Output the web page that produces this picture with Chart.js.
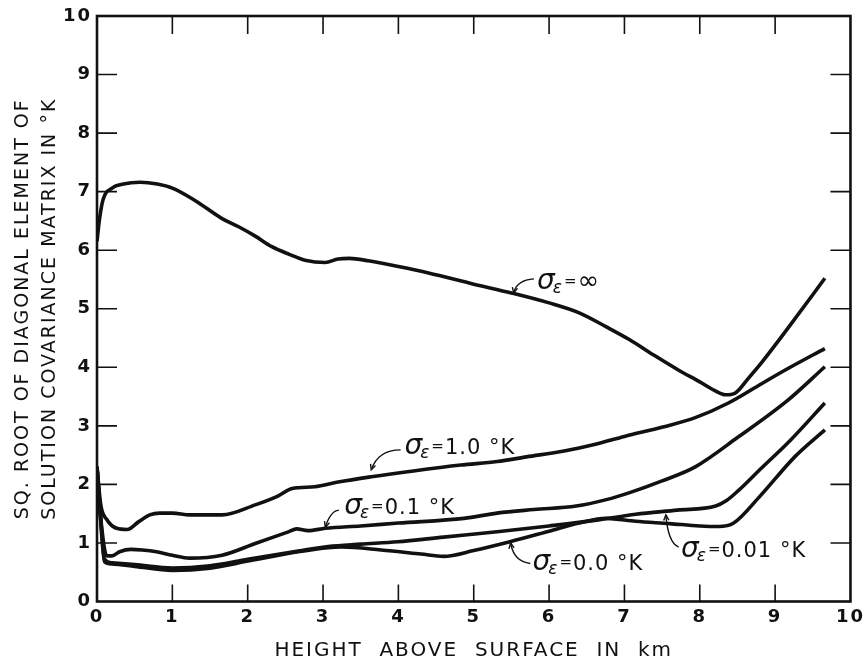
<!DOCTYPE html>
<html>
<head>
<meta charset="utf-8">
<script src="https://cdn.jsdelivr.net/npm/chart.js@4"></script>
<style>
html, body { margin: 0; padding: 0; background: #fff; }
#wrap { width: 868px; height: 663px; position: relative; }
</style>
</head>
<body>
<div id="wrap"><canvas id="chart"></canvas></div>
<script>
// heights in km / values in °K
const infH = [0, 0.03, 0.08, 0.2, 0.35, 0.57, 0.8, 1.0, 1.3, 1.66, 1.88, 2.1, 2.32, 2.55, 2.76, 3.03, 3.2, 3.35, 3.6, 4.0, 4.4, 5.0, 5.5, 6.0, 6.4, 6.76, 7.07, 7.4, 7.72, 8.0, 8.2, 8.34, 8.47, 8.65, 8.82, 9.2, 9.66];
const infV = [6.15, 6.5, 6.86, 7.06, 7.13, 7.16, 7.13, 7.06, 6.85, 6.54, 6.40, 6.24, 6.06, 5.93, 5.83, 5.79, 5.85, 5.86, 5.82, 5.72, 5.61, 5.42, 5.27, 5.10, 4.93, 4.69, 4.47, 4.20, 3.95, 3.75, 3.60, 3.53, 3.56, 3.82, 4.08, 4.72, 5.52];

const s10H = [0, 0.05, 0.13, 0.26, 0.4, 0.55, 0.7, 0.83, 1.0, 1.23, 1.66, 2.1, 2.4, 2.59, 2.89, 3.2, 3.64, 4.2, 4.83, 5.31, 5.7, 6.2, 6.63, 7.0, 7.51, 7.94, 8.38, 8.82, 9.2, 9.66];
const s10V = [2.3, 1.65, 1.40, 1.25, 1.23, 1.36, 1.48, 1.51, 1.51, 1.48, 1.48, 1.65, 1.80, 1.93, 1.96, 2.04, 2.13, 2.23, 2.33, 2.39, 2.47, 2.57, 2.69, 2.82, 2.98, 3.14, 3.39, 3.72, 4.00, 4.32];

const s01H = [0, 0.06, 0.13, 0.2, 0.3, 0.45, 0.6, 0.79, 1.0, 1.23, 1.66, 2.1, 2.54, 2.65, 2.8, 3.03, 3.5, 4.0, 4.87, 5.31, 5.8, 6.36, 6.76, 7.07, 7.5, 7.94, 8.5, 9.17, 9.66];
const s01V = [2.3, 1.3, 0.78, 0.78, 0.85, 0.89, 0.88, 0.85, 0.79, 0.74, 0.79, 0.99, 1.19, 1.24, 1.21, 1.25, 1.29, 1.34, 1.42, 1.51, 1.57, 1.63, 1.74, 1.86, 2.06, 2.30, 2.80, 3.44, 4.01];

const s001H = [0, 0.05, 0.1, 0.2, 0.5, 1.0, 1.5, 2.0, 2.67, 3.07, 3.5, 3.99, 4.6, 5.31, 6.0, 6.63, 7.15, 7.7, 8.21, 8.35, 8.5, 8.82, 9.2, 9.66];
const s001V = [2.3, 1.4, 0.72, 0.66, 0.63, 0.57, 0.61, 0.72, 0.86, 0.94, 0.98, 1.02, 1.10, 1.19, 1.29, 1.39, 1.49, 1.56, 1.63, 1.72, 1.88, 2.28, 2.75, 3.39];

const s00H = [0, 0.05, 0.1, 0.2, 0.5, 1.0, 1.5, 2.0, 2.67, 3.07, 3.25, 3.77, 4.3, 4.6, 5.0, 5.48, 6.0, 6.4, 6.76, 7.15, 7.6, 8.0, 8.25, 8.45, 8.8, 9.26, 9.66];
const s00V = [2.3, 1.35, 0.68, 0.64, 0.60, 0.53, 0.57, 0.69, 0.85, 0.92, 0.93, 0.88, 0.81, 0.77, 0.87, 1.02, 1.20, 1.34, 1.42, 1.37, 1.33, 1.29, 1.28, 1.34, 1.80, 2.47, 2.93];

const tickVals = [1, 2, 3, 4, 5, 6, 7, 8, 9];

// curve labels: text after "σε=", anchor (km, °K), pointer start / bend / end (km, °K)
const labelText = ['∞', '1.0 °K', '0.1 °K', '0.0 °K', '0.01 °K'];
const labelAt = [[5.84, 5.47], [4.08, 2.64], [3.28, 1.63], [5.78, 0.67], [7.75, 0.88]];
const pointerPath = [
    [[5.80, 5.51], [5.57, 5.49], [5.53, 5.27]],
    [[4.03, 2.59], [3.73, 2.59], [3.64, 2.25]],
    [[3.21, 1.56], [3.10, 1.55], [3.03, 1.27]],
    [[5.75, 0.65], [5.53, 0.68], [5.49, 1.00]],
    [[7.72, 0.93], [7.58, 1.00], [7.55, 1.48]]
];

function pts(h, v){
    return h.map((x, i) => ({x: x, y: v[i]}));
}

const INK = '#111';

function curve(label, h, v){
    return {
        label: label,
        data: pts(h, v),
        borderColor: INK,
        borderWidth: 3.6,
        pointRadius: 0,
        fill: false,
        showLine: true,
        cubicInterpolationMode: 'monotone'
    };
}

function drawSigma(ctx, px, py, rest){
    ctx.save();
    ctx.fillStyle = INK;
    ctx.textBaseline = 'alphabetic';
    ctx.textAlign = 'left';
    const base = py + 7.5;
    ctx.font = 'italic 28px "DejaVu Sans"';
    ctx.fillText('σ', px, base);
    let cx = px + ctx.measureText('σ').width - 2;
    ctx.font = 'italic 17px "DejaVu Sans"';
    ctx.fillText('ε', cx, base + 4);
    cx += ctx.measureText('ε').width + 2;
    ctx.font = '15px "DejaVu Sans"';
    ctx.fillText('=', cx, base - 3);
    cx += ctx.measureText('=').width + 1;
    if (rest === '∞') {
        ctx.font = '26px "DejaVu Sans"';
    } else {
        ctx.font = '21px "DejaVu Sans"';
        ctx.letterSpacing = '1px';
    }
    ctx.fillText(rest, cx, base);
    ctx.restore();
}

function drawPointer(ctx, p0, c, p1){
    ctx.save();
    ctx.strokeStyle = INK;
    ctx.lineWidth = 1.4;
    ctx.beginPath();
    ctx.moveTo(p0.x, p0.y);
    ctx.quadraticCurveTo(c.x, c.y, p1.x, p1.y);
    ctx.stroke();
    const ang = Math.atan2(p1.y - c.y, p1.x - c.x);
    const L = 6;
    ctx.beginPath();
    ctx.moveTo(p1.x - L * Math.cos(ang - 0.45), p1.y - L * Math.sin(ang - 0.45));
    ctx.lineTo(p1.x, p1.y);
    ctx.lineTo(p1.x - L * Math.cos(ang + 0.45), p1.y - L * Math.sin(ang + 0.45));
    ctx.stroke();
    ctx.restore();
}

const framePlugin = {
    id: 'frame',
    beforeDraw(chart){
        chart.ctx.letterSpacing = '2px';
    },
    beforeDatasetsDraw(chart){
        const ctx = chart.ctx;
        const a = chart.chartArea;
        const x = chart.scales.x, y = chart.scales.y;
        ctx.letterSpacing = '0px';
        ctx.save();
        ctx.strokeStyle = INK;
        ctx.lineWidth = 1.6;
        ctx.beginPath();
        tickVals.forEach(v => {
            const px = x.getPixelForValue(v);
            const py = y.getPixelForValue(v);
            ctx.moveTo(px, a.bottom); ctx.lineTo(px, a.bottom - 17);
            ctx.moveTo(px, a.top); ctx.lineTo(px, a.top + 18);
            ctx.moveTo(a.left, py); ctx.lineTo(a.left + 20, py);
            ctx.moveTo(a.right, py); ctx.lineTo(a.right - 20, py);
        });
        ctx.stroke();
        ctx.lineWidth = 2.6;
        ctx.strokeRect(a.left, a.top, a.right - a.left, a.bottom - a.top);
        ctx.restore();
    },
    afterDatasetsDraw(chart){
        const ctx = chart.ctx;
        const x = chart.scales.x, y = chart.scales.y;
        const toPx = p => ({x: x.getPixelForValue(p[0]), y: y.getPixelForValue(p[1])});
        for (let i = 0; i < labelText.length; i++) {
            const pp = pointerPath[i];
            drawPointer(ctx, toPx(pp[0]), toPx(pp[1]), toPx(pp[2]));
            const at = toPx(labelAt[i]);
            drawSigma(ctx, at.x, at.y, labelText[i]);
        }
    }
};

const tickFont = {family: "'Liberation Sans Narrow', 'DejaVu Sans', sans-serif", size: 18, weight: 'bold'};
const titleFamily = "'DejaVu Sans', sans-serif";

new Chart(document.getElementById('chart'), {
    type: 'scatter',
    data: {
        datasets: [
            curve('σε=∞', infH, infV),
            curve('σε=1.0 °K', s10H, s10V),
            curve('σε=0.1 °K', s01H, s01V),
            curve('σε=0.01 °K', s001H, s001V),
            curve('σε=0.0 °K', s00H, s00V)
        ]
    },
    options: {
        responsive: true,
        maintainAspectRatio: false,
        animation: false,
        layout: { padding: {left: 0, top: 16, right: 12, bottom: 0} },
        plugins: {
            legend: { display: false },
            tooltip: { enabled: false }
        },
        scales: {
            x: {
                type: 'linear',
                min: 0,
                max: 10,
                grid: { display: false, drawTicks: false },
                border: { display: false },
                ticks: { stepSize: 1, padding: 5, color: INK, font: tickFont },
                title: {
                    display: true,
                    text: 'HEIGHT  ABOVE  SURFACE  IN  km',
                    color: INK,
                    font: {family: titleFamily, size: 20, lineHeight: 1.2},
                    padding: {top: 0, bottom: 0}
                },
                afterFit(scale){ scale.height = 61.5; }
            },
            y: {
                type: 'linear',
                min: 0,
                max: 10,
                grid: { display: false, drawTicks: false },
                border: { display: false },
                ticks: { stepSize: 1, padding: 5, color: INK, font: tickFont },
                title: {
                    display: true,
                    text: ['SQ. ROOT OF DIAGONAL ELEMENT OF', 'SOLUTION COVARIANCE MATRIX IN °K'],
                    color: INK,
                    font: {family: titleFamily, size: 19, lineHeight: 1.45},
                    padding: {top: 9, bottom: 0}
                },
                afterFit(scale){ scale.width = 97; }
            }
        }
    },
    plugins: [framePlugin]
});
</script>
</body>
</html>
